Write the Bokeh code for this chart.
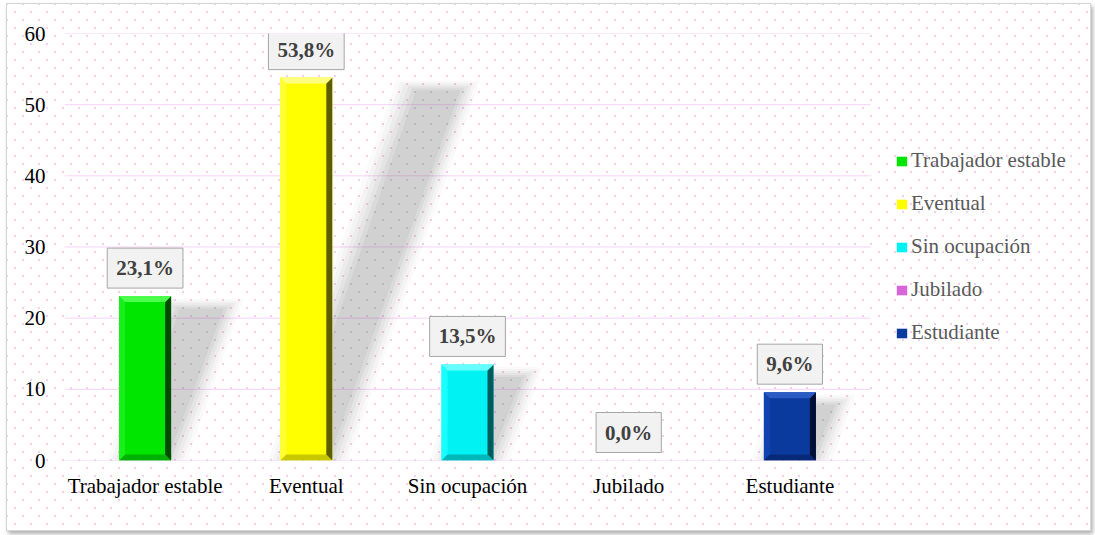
import numpy as np
from bokeh.plotting import figure
from bokeh.models import (ColumnDataSource, FixedTicker, Legend, LegendItem,
                          Label, Range1d)
from bokeh.embed import file_html
from bokeh.resources import INLINE

# ---------------- data ----------------
categories = ["Trabajador estable", "Eventual", "Sin ocupación", "Jubilado", "Estudiante"]
values = [23.1, 53.8, 13.5, 0.0, 9.6]
value_labels = ["23,1%", "53,8%", "13,5%", "0,0%", "9,6%"]
y_ticks = [0, 10, 20, 30, 40, 50, 60]

# ---------------- style ----------------
main_colors = ["#00e600", "#ffff00", "#00f2f2", "#d966d9", "#0b3a9e"]
top_colors = ["#4dff4d", "#ffff80", "#66ffff", "#f0a0f0", "#2a5cc4"]
left_colors = ["#19f019", "#ffff33", "#1affff", "#e080e0", "#0f44b0"]
right_colors = ["#004d00", "#5c5c00", "#005c5c", "#5c205c", "#000f33"]
bottom_colors = ["#00b000", "#c8c800", "#00b8b8", "#a040a0", "#072a78"]

FONT = "Liberation Serif"
W, H = 1085, 528
ML, MT = 57, 29
cat_w, frame_h = 806, 427          # pixel width used by the categories
frame_w = W - ML                   # frame runs to the right edge (legend lives there)
MB = H - MT - frame_h
YMAX = 60.0
n = len(categories)
px_x = n / cat_w                   # x units per pixel
px_y = YMAX / frame_h              # y units per pixel

xc = np.arange(n) + 0.5
half = 26 * px_x
x0 = xc - half
x1 = xc + half
vals = np.array(values)

p = figure(width=W, height=H, x_range=Range1d(0, frame_w * px_x), y_range=Range1d(0, YMAX),
           output_backend="svg", toolbar_location=None,
           min_border_left=ML, min_border_right=0, min_border_top=MT,
           min_border_bottom=MB)

p.border_fill_alpha = 0
p.background_fill_alpha = 0
p.outline_line_color = None
p.styles = {
    "margin": "3px 0px 0px 6px",
    "border": "1px solid #d6d6d6",
    "box-shadow": "2px 3px 4px rgba(0,0,0,0.30)",
    "background-color": "#ffffff",
    "background-image": "radial-gradient(circle, #f5cdf5 1px, transparent 1.4px), "
                        "radial-gradient(circle, #f5cdf5 1px, transparent 1.4px)",
    "background-size": "16px 16px",
    "background-position": "0px 0px, 8px 8px",
}

# grid lines only across the category area
p.xgrid.grid_line_color = None
p.ygrid.grid_line_color = None
p.segment(x0=0, x1=n, y0=y_ticks, y1=y_ticks, line_color="#f7d3f7", line_width=1)

# axes
p.yaxis.ticker = FixedTicker(ticks=y_ticks)
p.xaxis.ticker = FixedTicker(ticks=list(xc))
p.xaxis.major_label_overrides = {float(x): c for x, c in zip(xc, categories)}
for ax in (p.xaxis, p.yaxis):
    ax.axis_line_color = None
    ax.major_tick_line_color = None
    ax.minor_tick_line_color = None
    ax.major_label_text_font = FONT
    ax.major_label_text_font_size = "21px"
    ax.major_label_text_color = "#000000"
p.yaxis.major_label_standoff = 13
p.xaxis.major_label_standoff = 7

# shadows (skewed copies of the bars, layered for a blur)
k = 2.45 * px_x
for e, a in [(16, 0.03), (12, 0.04), (8, 0.05), (4, 0.06), (0, 0.07), (-4, 0.07)]:
    xs, ys = [], []
    for i in range(n):
        v = vals[i]
        if v <= 0:
            continue
        s = k * v
        ex = e * px_x
        top = v - 1.5 + e * px_y * 0.5
        xs.append([x0[i] + 4 * px_x - ex, x1[i] + ex, x1[i] + s + ex, x0[i] + s - ex])
        ys.append([0, 0, top, top])
    p.patches(xs, ys, fill_color="#6a6a6a", fill_alpha=a, line_color=None)

# main bars
src = ColumnDataSource(dict(x0=x0, x1=x1, top=vals, color=main_colors, cat=categories))
bars = p.quad(left="x0", right="x1", bottom=0, top="top", fill_color="color",
              line_color=None, source=src)

# bevels
bx = 6 * px_x
by = 6 * px_y
txs, tys, tcs = [], [], []
for i in range(n):
    v = vals[i]
    if v <= 2 * by:
        continue
    a, b = x0[i], x1[i]
    txs.append([a, a, a + bx, a + bx]); tys.append([0, v, v - by, by]); tcs.append(left_colors[i])
    txs.append([a, b, b - bx, a + bx]); tys.append([0, 0, by, by]); tcs.append(bottom_colors[i])
    txs.append([b, b, b - bx, b - bx]); tys.append([0, v, v - by, by]); tcs.append(right_colors[i])
    txs.append([a, b, b - bx, a + bx]); tys.append([v, v, v - by, v - by]); tcs.append(top_colors[i])
p.patches(txs, tys, fill_color=tcs, line_color=None)

# value labels
for xv, yv, t in zip(xc, vals, value_labels):
    p.add_layout(Label(x=xv, y=yv, text=t, text_align="center",
                       text_baseline="bottom", y_offset=8,
                       text_font=FONT, text_font_size="21px", text_font_style="bold",
                       text_color="#404040",
                       background_fill_color="#f2f2f2", background_fill_alpha=1.0,
                       border_line_color="#a6a6a6", border_line_width=1,
                       padding=(9, 8)))

# legend
items = [LegendItem(label=c, renderers=[bars], index=i) for i, c in enumerate(categories)]
legend = Legend(items=items, location=(831, 115), orientation="vertical",
                padding=0, margin=0, spacing=18, label_height=25, glyph_height=12,
                glyph_width=13, label_standoff=3,
                label_text_font=FONT, label_text_font_size="21px",
                label_text_color="#595959",
                background_fill_alpha=0, border_line_alpha=0)
p.add_layout(legend)

open("out.html", "w").write(file_html(p, INLINE))
